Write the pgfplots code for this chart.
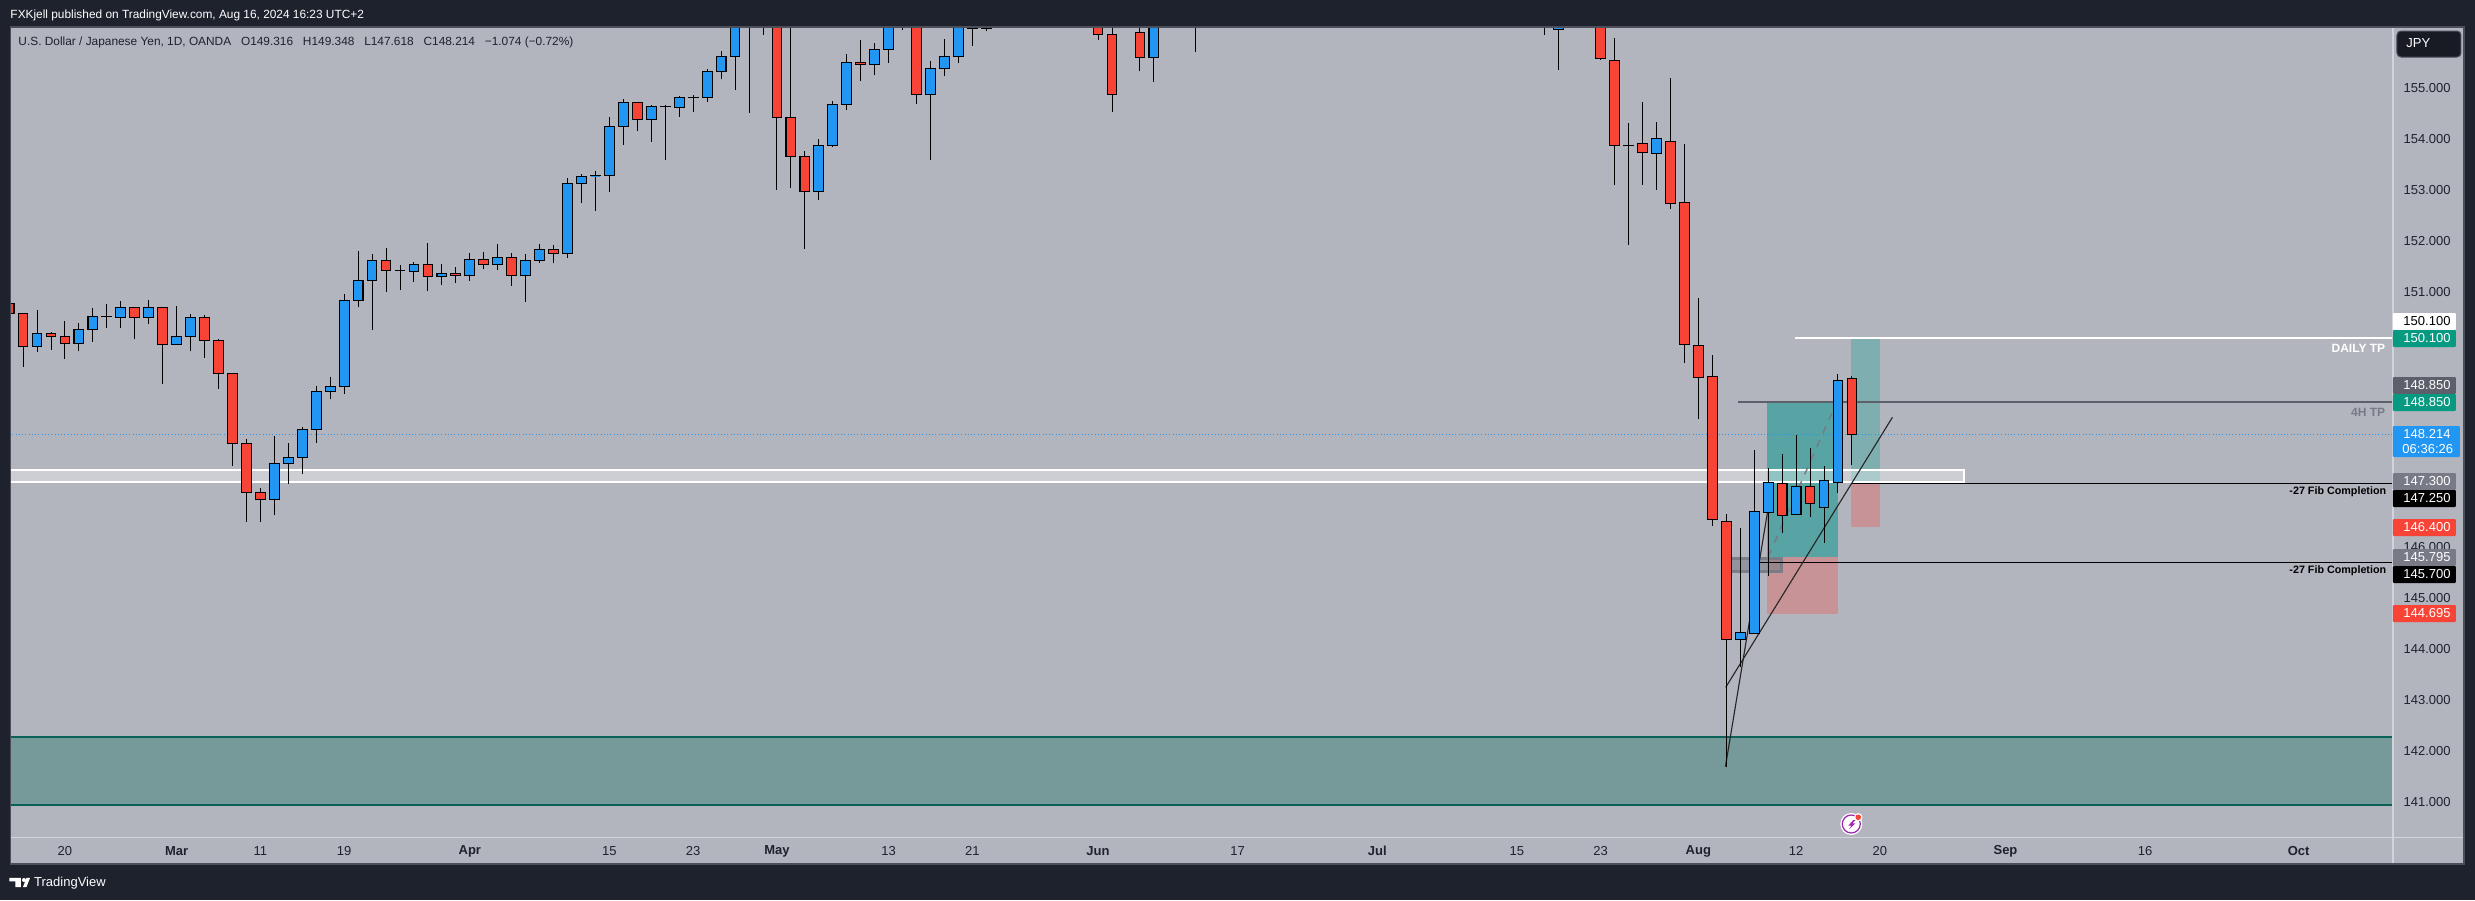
\documentclass[border=0pt]{standalone}
\usepackage{fontspec}
\setmainfont{Liberation Sans}
\usepackage{pgfplots}
\usepackage{pgfplotstable}
\pgfplotsset{compat=1.18}

\definecolor{dark}{HTML}{1E222D}
\definecolor{plotbg}{HTML}{B2B5BE}
\definecolor{edge}{HTML}{4C4F5A}
\definecolor{sep}{HTML}{D1D4DC}
\definecolor{txt}{HTML}{1E222D}
\definecolor{upc}{HTML}{2196F3}
\definecolor{dnc}{HTML}{F74437}
\definecolor{zonef}{HTML}{769999}
\definecolor{zonel}{HTML}{0A6157}
\definecolor{tealA}{HTML}{58A3A3}
\definecolor{tealB}{HTML}{7FAEB0}
\definecolor{pink}{HTML}{C79397}
\definecolor{gr1}{HTML}{5D606B}
\definecolor{gr2}{HTML}{787B86}
\definecolor{tagg}{HTML}{089981}
\definecolor{boltc}{HTML}{9C27B0}

% candles: x, low, body bottom, body top, high (x = trading days from Feb 20)
\pgfplotstableread{
x l b t h
-2 149.835 149.933 150.195 150.653
1 149.854 149.998 150.273 150.398
2 150.025 150.273 150.522 150.692
3 150.299 150.525 150.531 150.770
4 150.299 150.509 150.705 150.829
6 150.378 150.509 150.705 150.849
8 149.970 149.979 150.136 150.731
9 149.854 150.136 150.509 150.574
15 146.636 146.930 147.643 148.186
16 147.244 147.643 147.761 148.049
17 147.440 147.761 148.311 148.363
18 148.049 148.311 149.056 149.161
19 148.912 149.056 149.148 149.338
20 149.010 149.154 150.842 150.967
21 150.711 150.842 151.235 151.810
22 150.260 151.235 151.627 151.745
24 151.045 151.422 151.428 151.536
25 151.202 151.412 151.549 151.595
27 151.143 151.307 151.366 151.555
29 151.222 151.326 151.647 151.771
31 151.438 151.542 151.686 151.948
33 150.810 151.326 151.627 151.752
34 151.575 151.621 151.843 151.948
36 151.673 151.765 153.139 153.243
37 152.753 153.139 153.276 153.328
38 152.596 153.286 153.292 153.381
39 152.969 153.296 154.257 154.441
40 153.891 154.257 154.728 154.794
42 153.950 154.395 154.650 154.676
43 153.597 154.647 154.653 154.670
44 154.441 154.630 154.827 154.853
45 154.539 154.824 154.830 154.872
46 154.735 154.827 155.337 155.376
47 155.186 155.337 155.631 155.736
48 154.971 155.631 157.000 157.500
49 154.526 157.000 157.500 157.600
50 156.057 157.000 157.500 157.600
54 152.812 152.982 153.885 154.009
55 153.858 153.885 154.689 154.748
56 154.578 154.689 155.514 155.671
58 155.265 155.474 155.769 155.893
59 155.507 155.769 157.000 157.500
60 156.148 157.000 157.500 157.600
62 153.597 154.879 155.396 155.540
63 155.245 155.389 155.631 155.972
64 155.500 155.631 157.000 157.500
66 156.129 156.181 157.000 157.500
78 155.128 155.605 157.000 157.500
81 155.723 157.000 157.500 157.600
107 155.363 156.161 157.000 157.500
112 151.928 153.882 153.888 154.323
114 153.008 153.721 154.022 154.342
120 143.652 144.189 144.320 146.374
121 144.300 144.306 146.701 147.905
122 145.439 146.681 147.270 147.545
124 146.640 146.642 147.192 148.199
126 146.086 146.780 147.310 147.591
127 147.067 147.270 149.272 149.396
}\upcandles

\pgfplotstableread{
x l b t h
-4 150.358 150.587 150.783 150.816
-3 149.540 149.930 150.590 150.600
-1 149.867 150.129 150.195 150.227
0 149.691 149.998 150.136 150.437
5 150.083 150.509 150.705 150.720
7 149.200 149.979 150.705 150.720
10 149.717 150.057 150.509 150.555
11 149.109 149.410 150.057 150.083
12 147.597 148.036 149.410 149.420
13 146.498 147.074 148.036 148.121
14 146.498 146.930 147.074 147.166
23 151.006 151.431 151.627 151.869
26 151.025 151.307 151.549 151.968
28 151.182 151.326 151.372 151.497
30 151.457 151.542 151.647 151.791
32 151.124 151.326 151.686 151.771
35 151.575 151.765 151.843 151.928
41 154.172 154.395 154.728 154.740
51 153.008 154.434 157.000 157.500
52 153.047 153.669 154.434 157.500
53 151.856 152.982 153.669 153.773
57 155.147 155.474 155.514 155.952
61 154.696 154.879 157.000 157.500
65 155.834 156.181 157.000 157.500
74 155.952 156.063 157.000 157.500
75 154.539 154.879 156.063 157.500
77 155.343 155.605 156.102 157.500
106 156.057 156.204 156.210 157.500
110 155.559 155.586 157.000 157.500
111 153.106 153.878 155.553 155.991
113 153.106 153.741 153.924 154.735
115 152.635 152.740 153.963 155.206
116 149.619 149.979 152.766 153.911
117 148.520 149.325 149.959 150.888
118 146.420 146.544 149.351 149.769
119 141.690 144.189 146.505 146.642
123 146.282 146.623 147.251 147.826
125 146.596 146.858 147.192 147.937
128 147.618 148.214 149.316 149.348
}\dncandles

% wick + body for each table row
\newcommand\candles[2]{%
  \pgfplotstablegetrowsof{#1}%
  \pgfmathtruncatemacro\lastrow{\pgfplotsretval-1}%
  \pgfplotsinvokeforeach{0,...,\lastrow}{%
    \pgfplotstablegetelem{##1}{x}\of{#1}\let\cx\pgfplotsretval
    \pgfplotstablegetelem{##1}{l}\of{#1}\let\cl\pgfplotsretval
    \pgfplotstablegetelem{##1}{b}\of{#1}\let\cb\pgfplotsretval
    \pgfplotstablegetelem{##1}{t}\of{#1}\let\ct\pgfplotsretval
    \pgfplotstablegetelem{##1}{h}\of{#1}\let\ch\pgfplotsretval
    \pgfmathsetmacro\xa{\cx-0.35}\pgfmathsetmacro\xb{\cx+0.35}%
    \edef\tmp{\noexpand\addplot[black,line width=.38pt] coordinates {(\cx,\cl)(\cx,\ch)};
      \noexpand\addplot[fill=#2,draw=black,line width=.42pt] coordinates {(\xa,\cb)(\xb,\cb)(\xb,\ct)(\xa,\ct)} -- cycle;}%
    \tmp
  }%
}

\newcommand\price{\fontsize{5.2}{6}\selectfont}
% y top, y bottom, x right, fill, text colour, text (pixel coordinates)
\newcommand\pricetag[6]{%
  \fill[#4,rounded corners=.4pt] (2393,#1) rectangle (#3,#2);
  \node[anchor=west,inner sep=0,text=#5] at (2403,{(#1+#2)/2}) {\price #6};
}
\newcommand\note[5]{\node[anchor=east,inner sep=0,text=#4] at (#1,#2) {\fontsize{#5}{6}\selectfont\bfseries #3};}

\begin{document}
\begin{tikzpicture}
\useasboundingbox (0,0) rectangle (990pt,360pt);
\fill[dark] (0,0) rectangle (990pt,360pt);

\begin{scope}[x=.4pt,y=-.4pt,shift={(0pt,360pt)}]
  \fill[plotbg] (10.5,27) rectangle (2464,864);
\end{scope}

\begin{axis}[
  at={(4.2pt,25.08pt)},anchor=south west,
  scale only axis,width=953.12pt,height=324.12pt,
  xmin=-3.9,xmax=166.78,ymin=140.303,ymax=156.207,
  axis background/.style={fill=plotbg},
  axis line style={draw=none},
  major tick length=0pt,
  xtick={0,8,14,20,29,39,45,51,59,65,74,84,94,104,110,117,124,130,139,149,160},
  xticklabels={20,\textbf{Mar},11,19,\textbf{Apr},15,23,\textbf{May},13,21,\textbf{Jun},17,\textbf{Jul},15,23,\textbf{Aug},12,20,\textbf{Sep},16,\textbf{Oct}},
  xticklabel style={anchor=center,yshift=-5.6pt,font=\price,text=txt},
  ytick={141,142,...,155},
  yticklabel pos=right,
  yticklabel style={anchor=west,inner sep=0pt,xshift=3.9pt,font=\price,text=txt,
    /pgf/number format/.cd,fixed,fixed zerofill,precision=3,1000 sep={},assume math mode=true},
]
% demand zone
\addplot[fill=zonef,draw=zonel,line width=.8pt] coordinates {(-10,142.278)(175,142.278)(175,140.937)(-10,140.937)} -- cycle;
% position boxes
\addplot[fill=tealA,draw=none] coordinates {(121.92,148.85)(126.98,148.85)(126.98,145.795)(121.92,145.795)} -- cycle;
\addplot[fill=pink,draw=none] coordinates {(121.92,145.795)(126.98,145.795)(126.98,144.695)(121.92,144.695)} -- cycle;
\addplot[fill=tealB,draw=none] coordinates {(127.96,150.1)(130,150.1)(130,147.3)(127.96,147.3)} -- cycle;
\addplot[fill=pink,draw=none] coordinates {(127.96,147.3)(130,147.3)(130,146.4)(127.96,146.4)} -- cycle;
% grey block
\addplot[fill=gr2,fill opacity=.55,draw=gr2,draw opacity=.9,line width=1.1pt] coordinates {(118.9,145.778)(122.95,145.778)(122.95,145.517)(118.9,145.517)} -- cycle;
% white range
\addplot[fill=white,fill opacity=.35,draw=white,line width=.75pt] coordinates {(-10,147.512)(136,147.512)(136,147.277)(-10,147.277)} -- cycle;
% levels
\addplot[white,line width=.8pt] coordinates {(123.9,150.1)(175,150.1)};
\addplot[gr1,line width=.8pt] coordinates {(119.85,148.85)(175,148.85)};
\addplot[black,line width=.5pt] coordinates {(127.9,147.25)(175,147.25)};
\addplot[black,line width=.5pt] coordinates {(121.25,145.7)(175,145.7)};
\addplot[upc,line width=.4pt,dash pattern=on .45pt off .85pt] coordinates {(-4,148.214)(167,148.214)};
% dashed link and trend lines
\addplot[gr2,line width=.6pt,dash pattern=on 3pt off 3pt] coordinates {(122,145.811)(126.55,148.624)};
\addplot[black!85,line width=.45pt] coordinates {(118.96,143.247)(130.9,148.546)};
\addplot[black!85,line width=.45pt] coordinates {(118.94,141.69)(121.95,146.68)};
\candles{\upcandles}{upc}
\candles{\dncandles}{dnc}
\end{axis}

\begin{scope}[x=.4pt,y=-.4pt,shift={(0pt,360pt)}]
  % frame
  \draw[sep,line width=.45pt] (2393,27) -- (2393,864);
  \draw[sep,line width=.45pt] (10.5,837.3) -- (2464,837.3);
  \draw[edge,line width=.6pt] (10.5,27) rectangle (2464,864);
  % header and footer
  \node[anchor=west,inner sep=0,text=white] at (10,15.7) {\fontsize{4.75}{6}\selectfont FXKjell published on TradingView.com, Aug 16, 2024 16:23 UTC+2};
  \node[anchor=west,inner sep=0,text=txt] at (18,42.7) {\fontsize{4.75}{6}\selectfont U.S. Dollar / Japanese Yen, 1D, OANDA\hspace{2.6pt} O149.316\hspace{2.6pt} H149.348\hspace{2.6pt} L147.618\hspace{2.6pt} C148.214\hspace{2.6pt} −1.074 (−0.72\%)};
  \fill[white] (9.5,878) -- (21,878) -- (21,887) -- (15.5,887) -- (15.5,881.5) -- (9.5,881.5) -- cycle;
  \fill[white] (24,880) circle (2);
  \fill[white] (26.5,887) -- (23,887) -- (26.5,878) -- (30,878) -- cycle;
  \node[anchor=west,inner sep=0,text=white] at (33.7,883) {\fontsize{5.2}{6}\selectfont TradingView};
  % currency button
  \draw[fill=dark!80!black,draw=edge,line width=.4pt,rounded corners=1.6pt] (2397,31) rectangle (2461,57);
  \node[anchor=west,inner sep=0,text=white] at (2406,43.5) {\price JPY};
  % line labels
  \note{2385.7}{348.7}{DAILY TP}{white}{4.8}
  \note{2385.7}{412.7}{4H TP}{gr2}{4.8}
  \note{2386.7}{491.3}{-27 Fib Completion}{black}{4.3}
  \note{2386.7}{570.3}{-27 Fib Completion}{black}{4.3}
  % price tags
  \pricetag{313}{330}{2456}{white}{black}{150.100}
  \pricetag{330}{347}{2456}{tagg}{white}{150.100}
  \pricetag{377}{394}{2456}{gr1}{white}{148.850}
  \pricetag{394}{411}{2456}{tagg}{white}{148.850}
  \fill[upc,rounded corners=.4pt] (2393,426) rectangle (2460,457);
  \node[anchor=west,inner sep=0,text=white] at (2403,434.3) {\price 148.214};
  \node[anchor=west,inner sep=0,text=white] at (2402,448.7) {\price 06:36:26};
  \pricetag{473}{490}{2456}{gr2}{white}{147.300}
  \pricetag{490}{507}{2456}{black}{white}{147.250}
  \pricetag{519}{536}{2456}{dnc}{white}{146.400}
  \pricetag{549}{566}{2456}{gr2}{white}{145.795}
  \pricetag{566}{583}{2456}{black}{white}{145.700}
  \pricetag{605}{622}{2456}{dnc}{white}{144.695}
  % alert icon
  \fill[white] (1851.3,824) circle (11);
  \draw[boltc,line width=.5pt] (1851.3,824) circle (9);
  \fill[boltc] (1853.3,820) -- (1848.3,825.7) -- (1851.3,825.7) -- (1849,829.3) -- (1855.5,823.3) -- (1852.5,823.3) -- (1855.5,820) -- cycle;
  \fill[white] (1858.3,817.3) circle (4.2);
  \fill[dnc] (1858.3,817.3) circle (2.8);
\end{scope}
\end{tikzpicture}
\end{document}
